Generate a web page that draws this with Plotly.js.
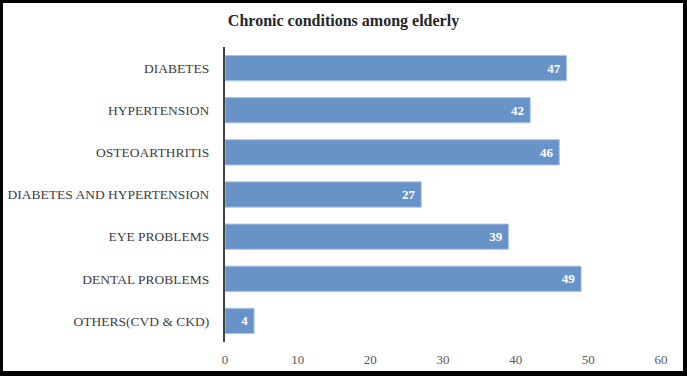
<!DOCTYPE html>
<html><head><meta charset="utf-8">
<script src="https://cdn.plot.ly/plotly-3.0.1.min.js"></script>
<style>
html,body{margin:0;padding:0;background:#fff;}
#wrap{position:relative;width:687px;height:376px;overflow:hidden;}
#chart{position:absolute;left:0;top:0;width:687px;height:376px;}
#border{position:absolute;left:0;top:0;width:687px;height:376px;box-sizing:border-box;border-style:solid;border-color:#000;border-width:3px 4px 5px 3px;pointer-events:none;}
</style></head>
<body>
<div id="wrap"><div id="chart"></div><div id="border"></div></div>
<script>
const categories = ["DIABETES", "HYPERTENSION", "OSTEOARTHRITIS", "DIABETES AND HYPERTENSION", "EYE PROBLEMS", "DENTAL PROBLEMS", "OTHERS(CVD & CKD)"];
const values = [47, 42, 46, 27, 39, 49, 4];
const xTicks = [0, 10, 20, 30, 40, 50, 60];
const chartTitle = "Chronic conditions among elderly";

const serif = "Times New Roman, Liberation Serif, DejaVu Serif, serif";
const trace = {
  type: 'bar',
  orientation: 'h',
  y: categories,
  x: values,
  text: values.map(v => v + ' '),
  textposition: 'inside',
  insidetextanchor: 'end',
  textfont: {family: serif, size: 13, color: '#ffffff', weight: 'bold'},
  marker: {color: '#6893c8', line: {color: '#a9c4e6', width: 1}},
  hoverinfo: 'none'
};
const layout = {
  width: 687, height: 376,
  margin: {l: 225, r: 26, t: 47, b: 34},
  paper_bgcolor: '#ffffff', plot_bgcolor: '#ffffff',
  showlegend: false,
  bargap: 0.4,
  font: {family: serif},
  title: {text: '<b>' + chartTitle + '</b>', x: 0.5, xanchor: 'center', y: 0.945, yanchor: 'middle',
          font: {family: serif, size: 16, color: '#262626'}},
  xaxis: {range: [0, 60], tickvals: xTicks, ticktext: xTicks.map(String), showgrid: false, zeroline: false,
          showline: false, ticks: '', tickfont: {family: serif, size: 13, color: '#595959'}, ticklabelstandoff: 8, fixedrange: true},
  yaxis: {autorange: 'reversed', type: 'category', showgrid: false, zeroline: false,
          showline: true, linecolor: '#404040', linewidth: 2, ticks: '',
          tickfont: {family: serif, size: 13.5, color: '#404040'}, ticklabelstandoff: 11, fixedrange: true},
  uniformtext: {mode: 'show', minsize: 13}
};
Plotly.newPlot('chart', [trace], layout, {staticPlot: true, displayModeBar: false});
</script>
</body></html>
